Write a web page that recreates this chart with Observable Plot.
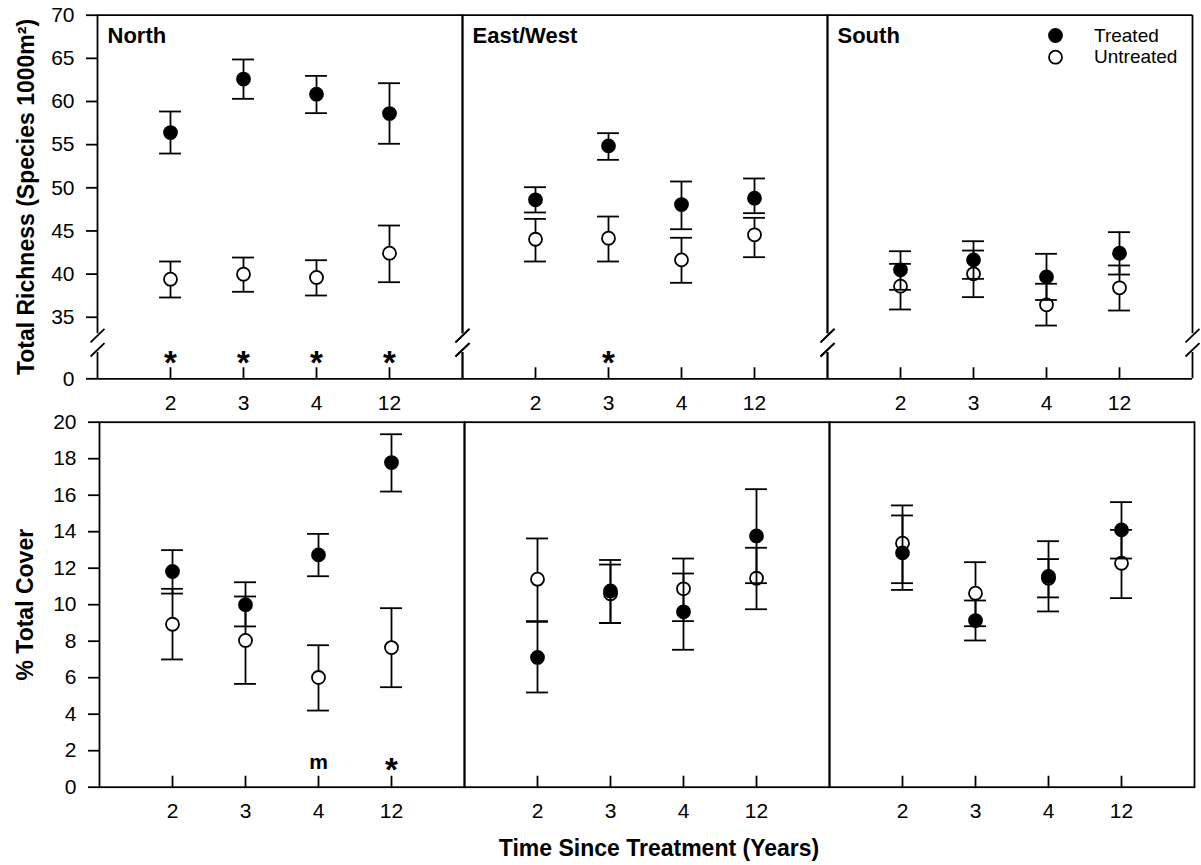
<!DOCTYPE html>
<html>
<head>
<meta charset="utf-8">
<script src="https://cdn.jsdelivr.net/npm/d3@7"></script>
<script src="https://cdn.jsdelivr.net/npm/@observablehq/plot@0.6"></script>
<style>
  html, body { margin: 0; padding: 0; background: #fff; overflow: hidden; }
  body { font-family: "Liberation Sans", Arial, sans-serif; }
  #wrap { position: relative; width: 1201px; height: 865px; }
  #wrap svg { display: block; }
  svg g[aria-label="y-axis label"] { font-weight: bold; font-size: 23px; }
  #xtitle { position: absolute; top: 831px; left: 659px; transform: translateX(-50%);
            font-size: 23px; font-weight: bold; line-height: 34px; white-space: nowrap; color: #000; }
</style>
</head>
<body>
<div id="wrap"></div>
<script>
// ---------- categories ----------
const years = ["2", "3", "4", "12"];
const regions = ["North", "East/West", "South"];
const richTicks = [0, 35, 40, 45, 50, 55, 60, 65, 70];
const coverTicks = [0, 2, 4, 6, 8, 10, 12, 14, 16, 18, 20];

// ---------- Total richness (species / 1000 m2) ----------
const richNorthTrMean = [56.4, 62.6, 60.85, 58.6];
const richNorthTrLow  = [53.97, 60.31, 58.65, 55.1];
const richNorthTrHigh = [58.84, 64.87, 62.97, 62.12];
const richNorthUnMean = [39.41, 39.99, 39.61, 42.42];
const richNorthUnLow  = [37.29, 37.95, 37.52, 39.06];
const richNorthUnHigh = [41.46, 41.92, 41.61, 45.63];

const richEWTrMean = [48.61, 54.86, 48.06, 48.8];
const richEWTrLow  = [47.14, 53.24, 45.2, 47.06];
const richEWTrHigh = [50.07, 56.33, 50.73, 51.08];
const richEWUnMean = [44.04, 44.16, 41.65, 44.55];
const richEWUnLow  = [41.46, 41.46, 38.99, 41.96];
const richEWUnHigh = [46.4, 46.67, 44.21, 46.52];

const richSouthTrMean = [40.5, 41.65, 39.68, 42.42];
const richSouthTrLow  = [38.18, 39.45, 37.0, 39.95];
const richSouthTrHigh = [42.65, 43.81, 42.35, 44.86];
const richSouthUnMean = [38.6, 40.03, 36.44, 38.41];
const richSouthUnLow  = [35.9, 37.33, 34.04, 35.78];
const richSouthUnHigh = [41.19, 42.73, 38.88, 41.0];

// ---------- % total cover ----------
const coverNorthTrMean = [11.82, 10.0, 12.73, 17.79];
const coverNorthTrLow  = [10.61, 8.81, 11.56, 16.2];
const coverNorthTrHigh = [12.99, 11.23, 13.88, 19.34];
const coverNorthUnMean = [8.93, 8.04, 6.01, 7.65];
const coverNorthUnLow  = [7.0, 5.66, 4.2, 5.48];
const coverNorthUnHigh = [10.87, 10.45, 7.78, 9.81];

const coverEWTrMean = [7.11, 10.75, 9.61, 13.77];
const coverEWTrLow  = [5.19, 9.0, 7.53, 11.18];
const coverEWTrHigh = [9.06, 12.45, 11.71, 16.33];
const coverEWUnMean = [11.4, 10.6, 10.87, 11.45];
const coverEWUnLow  = [9.1, 9.0, 9.1, 9.75];
const coverEWUnHigh = [13.63, 12.2, 12.53, 13.12];

const coverSouthTrMean = [12.84, 9.13, 11.55, 14.1];
const coverSouthTrLow  = [10.81, 8.04, 9.63, 12.53];
const coverSouthTrHigh = [14.89, 10.23, 13.48, 15.62];
const coverSouthUnMean = [13.37, 10.63, 11.45, 12.27];
const coverSouthUnLow  = [11.18, 8.82, 10.4, 10.36];
const coverSouthUnHigh = [15.44, 12.33, 12.5, 14.1];

// ---------- significance markers ----------
const richSigRegion = ["North", "North", "North", "North", "East/West"];
const richSigYear   = ["2", "3", "4", "12", "3"];
const richSigLabel  = ["*", "*", "*", "*", "*"];
const coverSigRegion = ["North", "North"];
const coverSigYear   = ["4", "12"];
const coverSigLabel  = ["m", "*"];

// ---------- build tables ----------
function series(region, group, mean, lo, hi) {
  return years.map((year, i) => ({region, group, year, xi: i + 1, mean: mean[i], lo: lo[i], hi: hi[i]}));
}
function sig(regs, yrs, labels) {
  return labels.map((label, i) => ({region: regs[i], xi: years.indexOf(yrs[i]) + 1, label}));
}
const richUn = [
  ...series("North", "Untreated", richNorthUnMean, richNorthUnLow, richNorthUnHigh),
  ...series("East/West", "Untreated", richEWUnMean, richEWUnLow, richEWUnHigh),
  ...series("South", "Untreated", richSouthUnMean, richSouthUnLow, richSouthUnHigh)
];
const richTr = [
  ...series("North", "Treated", richNorthTrMean, richNorthTrLow, richNorthTrHigh),
  ...series("East/West", "Treated", richEWTrMean, richEWTrLow, richEWTrHigh),
  ...series("South", "Treated", richSouthTrMean, richSouthTrLow, richSouthTrHigh)
];
const coverUn = [
  ...series("North", "Untreated", coverNorthUnMean, coverNorthUnLow, coverNorthUnHigh),
  ...series("East/West", "Untreated", coverEWUnMean, coverEWUnLow, coverEWUnHigh),
  ...series("South", "Untreated", coverSouthUnMean, coverSouthUnLow, coverSouthUnHigh)
];
const coverTr = [
  ...series("North", "Treated", coverNorthTrMean, coverNorthTrLow, coverNorthTrHigh),
  ...series("East/West", "Treated", coverEWTrMean, coverEWTrLow, coverEWTrHigh),
  ...series("South", "Treated", coverSouthTrMean, coverSouthTrLow, coverSouthTrHigh)
];
const richSig = sig(richSigRegion, richSigYear, richSigLabel);
const coverSig = sig(coverSigRegion, coverSigYear, coverSigLabel);
const tickPos = years.map((_, i) => i + 1);

const SW = 1.8;      // stroke width
const CAP = 0.15;    // half cap width in x units
const R = 6.5;

function groupMarks(rows, fill) {
  return [
    Plot.ruleX(rows, {fx: "region", x: "xi", y1: "lo", y2: "hi", stroke: "black", strokeWidth: SW}),
    Plot.ruleY(rows, {fx: "region", y: "hi", x1: d => d.xi - CAP, x2: d => d.xi + CAP, stroke: "black", strokeWidth: SW}),
    Plot.ruleY(rows, {fx: "region", y: "lo", x1: d => d.xi - CAP, x2: d => d.xi + CAP, stroke: "black", strokeWidth: SW}),
    Plot.dot(rows, {fx: "region", x: "xi", y: "mean", r: R, fill, stroke: "black", strokeWidth: SW})
  ];
}

const baseStyle = {fontFamily: "'Liberation Sans', Arial, sans-serif", fontSize: "21px", color: "black", background: "white", overflow: "visible"};

// ---------- top row: richness with broken axis ----------
const brkLow = 23.6, brkHigh = 33.1, dxs = 0.0957;
const richChart = Plot.plot({
  width: 1201, height: 415,
  marginTop: 14.7, marginBottom: 36.7, marginLeft: 96, marginRight: 7.7,
  style: baseStyle,
  fx: {domain: regions, padding: 0, axis: null},
  x: {domain: [0, 5]},
  y: {type: "linear", domain: [0, 32, 70], range: [378.3, 342.64, 14.7]},
  marks: [
    Plot.ruleY([70, 0], {y: d => d, stroke: "black", strokeWidth: SW}),
    Plot.ruleX([0, 5], {x: d => d, y1: () => 0, y2: () => brkLow, stroke: "black", strokeWidth: SW}),
    Plot.ruleX([0, 5], {x: d => d, y1: () => brkHigh, y2: () => 70, stroke: "black", strokeWidth: SW}),
    Plot.link([0, 5], {x1: d => d - dxs, x2: d => d + dxs, y1: () => 32.1, y2: () => 33.65, stroke: "black", strokeWidth: SW}),
    Plot.link([0, 5], {x1: d => d - dxs, x2: d => d + dxs, y1: () => 20.0, y2: () => 31.95, stroke: "black", strokeWidth: SW}),
    Plot.ruleX(tickPos, {x: d => d, y1: () => 0, y2: () => 9.9, stroke: "black", strokeWidth: SW}),
    ...groupMarks(richUn, "white"),
    ...groupMarks(richTr, "black"),
    Plot.text(richSig, {fx: "region", x: "xi", y: () => 13.8, text: "label", fontSize: 33, fontWeight: "bold", fill: "black"}),
    Plot.text(regions, {fx: d => d, text: d => d, frameAnchor: "top-left", dx: 10, dy: 12.6, lineAnchor: "top", fontSize: 22, fontWeight: "bold", fill: "black"}),
    Plot.dot(["Treated"], {fx: () => "South", frameAnchor: "top-right", dx: -137, dy: 20.3, r: R, fill: "black", stroke: "black", strokeWidth: SW}),
    Plot.dot(["Untreated"], {fx: () => "South", frameAnchor: "top-right", dx: -137, dy: 42, r: R, fill: "white", stroke: "black", strokeWidth: SW}),
    Plot.text(["Treated"], {fx: () => "South", text: d => d, frameAnchor: "top-right", dx: -98.5, dy: 20.3, textAnchor: "start", lineAnchor: "middle", fontSize: 19, fill: "black"}),
    Plot.text(["Untreated"], {fx: () => "South", text: d => d, frameAnchor: "top-right", dx: -98.5, dy: 42, textAnchor: "start", lineAnchor: "middle", fontSize: 19, fill: "black"}),
    Plot.axisY({ticks: richTicks, tickSize: 11, tickPadding: 12, fontSize: 21, strokeWidth: SW,
                label: "Total Richness (Species 1000m²)", labelAnchor: "center", labelArrow: "none", labelOffset: 80}),
    Plot.axisX({ticks: tickPos, tickFormat: d => years[d - 1], tickSize: 0, tickPadding: 16, fontSize: 21, label: null})
  ]
});

// ---------- bottom row: cover ----------
const coverChart = Plot.plot({
  width: 1201, height: 415,
  marginTop: 6.7, marginBottom: 43.3, marginLeft: 98.7, marginRight: 6,
  style: baseStyle,
  fx: {domain: regions, padding: 0, axis: null},
  x: {domain: [0, 5]},
  y: {domain: [0, 20]},
  marks: [
    Plot.frame({stroke: "black", strokeWidth: SW}),
    Plot.ruleX(tickPos, {x: d => d, y1: () => 0, y2: () => 0.6, stroke: "black", strokeWidth: SW}),
    ...groupMarks(coverUn, "white"),
    ...groupMarks(coverTr, "black"),
    Plot.text(coverSig.filter(d => d.label === "*"), {fx: "region", x: "xi", y: () => 0.9, text: "label", fontSize: 33, fontWeight: "bold", fill: "black"}),
    Plot.text(coverSig.filter(d => d.label !== "*"), {fx: "region", x: "xi", y: () => 1.37, text: "label", fontSize: 21, fontWeight: "bold", fill: "black"}),
    Plot.axisY({ticks: coverTicks, tickSize: 11, tickPadding: 12, fontSize: 21, strokeWidth: SW,
                label: "% Total Cover", labelAnchor: "center", labelArrow: "none", labelOffset: 82.7}),
    Plot.axisX({ticks: tickPos, tickFormat: d => years[d - 1], tickSize: 0, tickPadding: 16, fontSize: 21, label: null})
  ]
});

const wrap = document.getElementById("wrap");
wrap.appendChild(richChart);
wrap.appendChild(coverChart);
const xt = document.createElement("div");
xt.id = "xtitle";
xt.textContent = "Time Since Treatment (Years)";
wrap.appendChild(xt);
</script>
</body>
</html>
